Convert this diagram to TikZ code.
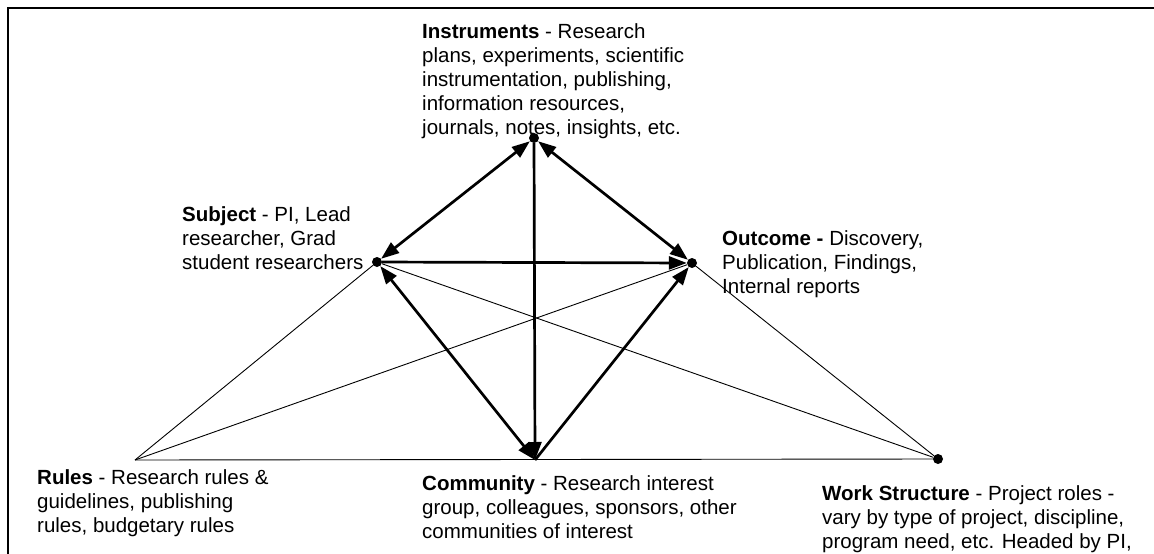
\documentclass[tikz,border=0pt]{standalone}
\usepackage{fontspec}
\setmainfont{Liberation Sans}
\usetikzlibrary{arrows.meta}

\tikzset{
  dot/.style={circle,fill,inner sep=0pt,minimum size=10pt},
  blurb/.style={anchor=north west,inner sep=0pt,align=left,
    font=\fontsize{20.5}{24}\selectfont},
  strong/.style={line width=2.7pt},
  faint/.style={line width=0.9pt}
}

\begin{document}
\begin{tikzpicture}[x=1pt,y=-1pt,>={Triangle[length=18pt,width=13pt]}]
      \useasboundingbox (0,0) rectangle (1154,554);
      \clip (0,0) rectangle (1154,554);
      \draw[line width=2.5pt] (8,8) rectangle (1180,580);
      \path
        (534,138) node[dot] (instr){}
        (377,262) node[dot] (subj){}
        (692,263) node[dot] (outc){}
        (938,459) node[dot] (work){};
      \coordinate (rules) at (135,460);
      \coordinate (comm) at (535,460);
      \node[blurb] (instrtext) at (422,23)
        {\textbf{Instruments} - Research\\plans, experiments, scientific\\instrumentation, publishing,\\information resources,\\journals, notes, insights, etc.};
      \node[blurb] (subjtext) at (182,206)
        {\textbf{Subject} - PI, Lead\\researcher, Grad\\student researchers};
      \node[blurb] (outctext) at (722,230)
        {\textbf{Outcome -} Discovery,\\Publication, Findings,\\Internal reports};
      \node[blurb] (rulestext) at (37,469)
        {\textbf{Rules} - Research rules \&\\guidelines, publishing\\rules, budgetary rules};
      \node[blurb] (commtext) at (422,475)
        {\textbf{Community} - Research interest\\group, colleagues, sponsors, other\\communities of interest};
      \node[blurb] (worktext) at (822,485)
        {\textbf{Work Structure} - Project roles -\\vary by type of project, discipline,\\program need, etc. Headed by PI,};
      \begin{scope}[faint]
        \draw (rules) to (subj);
        \draw (rules) to (outc);
        \draw (rules) to (work);
        \draw (subj) to (work);
        \draw (outc) to (work);
      \end{scope}
      \begin{scope}[strong]
        \draw[<->] (subj) to (instr);
        \draw[<->] (instr) to (outc);
        \draw[->] (instr) to (comm);
        \draw[->] (subj) to (outc);
        \draw[<->] (subj) to (comm);
        \draw[->] (comm) to (outc);
      \end{scope}
    \end{tikzpicture}
\end{document}
